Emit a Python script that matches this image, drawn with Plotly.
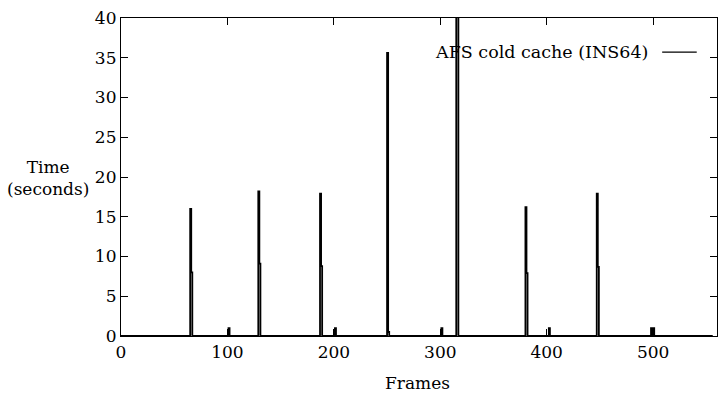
import plotly.graph_objects as go

# Frame numbers and reconstruction times (seconds)
frames = [0,
          64, 65, 66, 67,
          100, 101, 102,
          128, 129, 130, 131,
          186, 187, 188, 189,
          200, 201, 202,
          249, 250, 251, 252,
          300, 301, 302,
          314, 315, 316, 317,
          379, 380, 381, 382,
          401, 402, 403,
          446, 447, 448, 449,
          497, 498, 499, 500, 501, 502,
          556]
times = [0,
         0, 16.0, 8.0, 0,
         0, 1.0, 0,
         0, 18.2, 9.1, 0,
         0, 17.9, 8.8, 0,
         0, 1.0, 0,
         0, 35.6, 0.5, 0,
         0, 1.0, 0,
         0, 42.0, 41.0, 0,
         0, 16.2, 7.9, 0,
         0, 1.0, 0,
         0, 17.9, 8.7, 0,
         0, 1.0, 0, 1.0, 0, 0,
         0]

series_name = "AFS cold cache (INS64)"
x_ticks = [0, 100, 200, 300, 400, 500]
y_ticks = [0, 5, 10, 15, 20, 25, 30, 35, 40]

FONT = "DejaVu Serif"
FS = 17

fig = go.Figure()
fig.add_trace(go.Scatter(x=frames, y=times, mode="lines", line_shape="hv",
                         line=dict(color="black", width=1.8),
                         name=series_name, showlegend=False, cliponaxis=True))

fig.update_layout(
    width=719, height=399,
    margin=dict(l=121, r=2, t=18, b=63),
    paper_bgcolor="white", plot_bgcolor="white",
    font=dict(family=FONT, size=FS, color="black"),
    xaxis=dict(range=[0, 560], tickvals=x_ticks, ticks="inside", ticklen=7,
               tickcolor="black", showline=True, linecolor="black", linewidth=1.2,
               mirror="ticks", showgrid=False, zeroline=False, automargin=False,
               ticklabeloverflow="allow",
               tickfont=dict(family=FONT, size=FS)),
    yaxis=dict(range=[0, 40], tickvals=y_ticks, ticks="inside", ticklen=7,
               tickcolor="black", showline=True, linecolor="black", linewidth=1.2,
               mirror="ticks", showgrid=False, zeroline=False, automargin=False,
               ticklabeloverflow="allow",
               tickfont=dict(family=FONT, size=FS)),
)

# Axis titles
fig.add_annotation(text="Frames", xref="paper", yref="paper", x=0.498, y=-0.148,
                   xanchor="center", yanchor="middle", showarrow=False,
                   font=dict(family=FONT, size=FS))
fig.add_annotation(text="Time<br>(seconds)", xref="paper", yref="paper",
                   x=-0.1225, y=0.497, xanchor="center", yanchor="middle",
                   align="center", showarrow=False,
                   font=dict(family=FONT, size=FS))

# Legend (text then line sample, gnuplot style)
fig.add_annotation(text=series_name, xref="paper", yref="paper",
                   x=0.8876, y=0.893, xanchor="right", yanchor="middle",
                   showarrow=False, font=dict(family=FONT, size=FS + 0.5))
fig.add_shape(type="line", xref="paper", yref="paper",
              x0=0.908, x1=0.966, y0=0.893, y1=0.893,
              line=dict(color="black", width=1.2))

fig.write_html("out.html", config={"displayModeBar": False},
               post_script="document.body.style.margin='0px';"
                           "document.body.style.overflow='hidden';")
